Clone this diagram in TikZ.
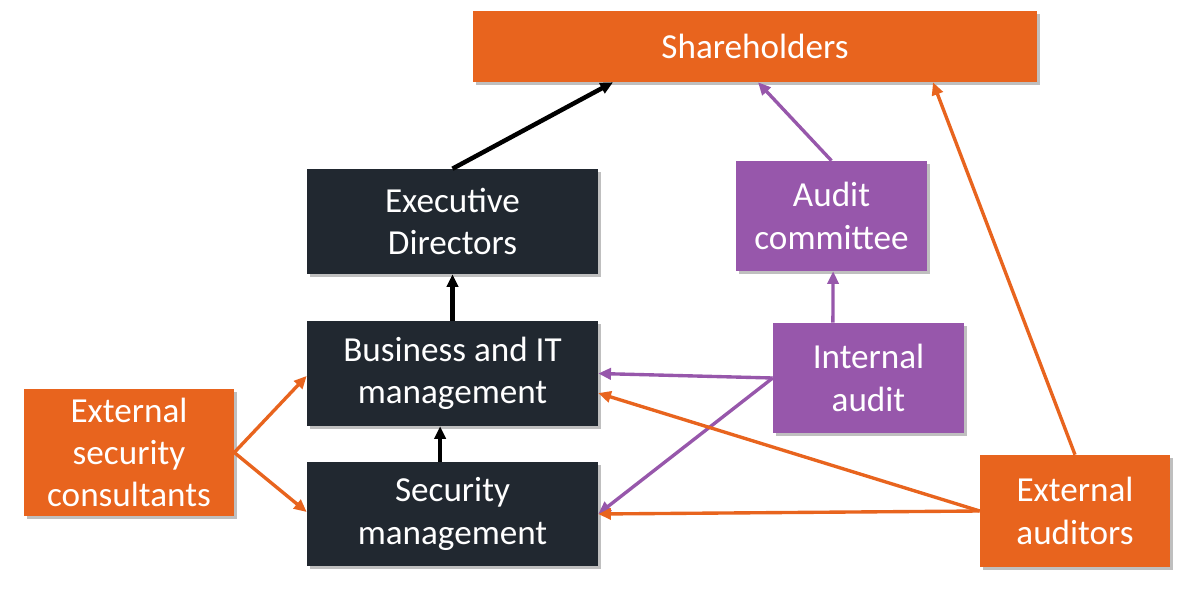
\documentclass[tikz,border=0pt]{standalone}
\usepackage{fontspec}
\setmainfont{Carlito}
\usetikzlibrary{arrows.meta,shadows}
\definecolor{orng}{HTML}{E8641E}
\definecolor{navy}{HTML}{212830}
\definecolor{purp}{HTML}{9757AB}
\begin{document}
\begin{tikzpicture}
          [font=\fontsize{25}{30}\selectfont,
          box/.style={shape=rectangle,text=white,align=center,inner sep=0pt,
            drop shadow={shadow xshift=0.07cm,shadow yshift=-0.07cm,opacity=0.25,fill=black}},
          dark/.style={box,fill=navy,minimum width=7.275cm,minimum height=2.625cm},
          org/.style={box,fill=orng},
          pur/.style={box,fill=purp,minimum width=4.775cm,minimum height=2.75cm},
          arc/.style={-{Triangle[length=9pt,width=8pt]},line width=3.2pt,black},
          oarc/.style={-{Triangle[length=9pt,width=8pt]},line width=2.4pt,orng},
          parc/.style={-{Triangle[length=9pt,width=8pt]},line width=2.4pt,purp}]

            \useasboundingbox (0,0) rectangle (29.7,-14.75);

            \node (sh) [org,minimum width=14.1cm,minimum height=1.775cm] at (18.875,-1.1625) {Shareholders};
            \node (ed) [dark] at (11.3125,-5.5375) {Executive\\Directors};
            \node (bm) [dark] at (11.3125,-9.3375) {Business and IT\\management};
            \node (sm) [dark,minimum height=2.6cm] at (11.3125,-12.85) {Security\\management};
            \node (esc) [org,minimum width=5.25cm,minimum height=3.175cm] at (3.225,-11.3125) {External\\security\\consultants};
            \node (ac) [pur] at (20.7875,-5.4) {Audit\\committee};
            \node (ia) [pur] at (21.7125,-9.45) {Internal\\audit};
            \node (ea) [org,minimum width=4.75cm,minimum height=2.8cm] at (26.875,-12.775) {External\\auditors};

          \draw [arc] (ed.north) -- ([xshift=-3.55cm]sh.south);
          \draw [arc] (bm.north) -- (ed.south);
          \draw [arc] ([xshift=-0.31cm]sm.north) -- ([xshift=-0.31cm]bm.south);

          \draw [oarc] (esc.east) -- ([yshift=-0.06cm]bm.west);
          \draw [oarc] (esc.east) -- ([yshift=0.05cm]sm.west);

          \draw [parc] (ac.north) -- ([xshift=0.075cm]sh.south);
          \draw [parc] ([xshift=-0.89cm]ia.north) -- ([xshift=0.04cm]ac.south);
          \draw [parc] (ia.west) -- (bm.east);
          \draw [parc] (ia.west) -- (sm.east);

          \draw [oarc] (ea.west) -- ([yshift=-0.49cm]bm.east);
          \draw [oarc] (ea.west) -- (sm.east);
          \draw [oarc] (ea.north) -- ([xshift=4.45cm]sh.south);

        \end{tikzpicture}
\end{document}
